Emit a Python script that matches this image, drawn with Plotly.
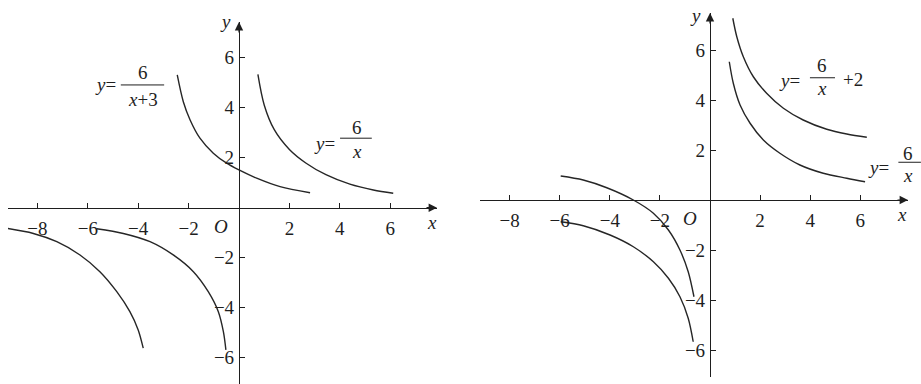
import plotly.graph_objects as go

# curve points (x, y in axis units)
# left graph: y = 6/x and y = 6/(x+3)
l_inv_pos_x = [0.75, 1.00, 1.40, 2.00, 2.65, 3.45, 4.40, 5.33, 6.12]
l_inv_pos_y = [5.33, 4.11, 3.12, 2.33, 1.79, 1.32, 0.94, 0.71, 0.58]
l_inv_neg_x = [-5.65, -4.59, -3.53, -2.61, -1.81, -1.22, -0.82, -0.62, -0.52]
l_inv_neg_y = [-0.84, -1.03, -1.36, -1.89, -2.56, -3.36, -4.16, -4.96, -5.69]
l_shift_pos_x = [-2.45, -2.21, -1.94, -1.55, -1.02, -0.49, 0.00, 0.70, 1.63, 2.82]
l_shift_pos_y = [5.31, 4.24, 3.51, 2.78, 2.18, 1.78, 1.51, 1.18, 0.84, 0.60]
l_shift_neg_x = [-9.19, -8.16, -7.23, -6.31, -5.52, -4.85, -4.33, -4.00, -3.80]
l_shift_neg_y = [-0.83, -1.03, -1.36, -1.89, -2.56, -3.36, -4.16, -4.89, -5.62]

# right graph: y = 6/x + 2 and y = 6/x
r_up_pos_x = [0.91, 1.07, 1.33, 1.73, 2.26, 2.93, 3.72, 4.66, 5.46, 6.26]
r_up_pos_y = [7.27, 6.53, 5.73, 4.93, 4.27, 3.67, 3.20, 2.83, 2.64, 2.51]
r_up_neg_x = [-5.96, -5.06, -4.12, -3.06, -2.26, -1.66, -1.20, -0.87, -0.64]
r_up_neg_y = [0.96, 0.80, 0.49, 0.00, -0.53, -1.20, -2.00, -2.87, -3.87]
r_inv_pos_x = [0.77, 0.93, 1.20, 1.60, 2.13, 2.79, 3.59, 4.52, 5.46, 6.19]
r_inv_pos_y = [5.53, 4.67, 3.80, 3.07, 2.40, 1.87, 1.40, 1.07, 0.87, 0.73]
r_inv_neg_x = [-5.96, -5.06, -3.99, -3.06, -2.26, -1.66, -1.20, -0.87, -0.67]
r_inv_neg_y = [-0.87, -1.03, -1.40, -1.87, -2.47, -3.13, -3.87, -4.73, -5.67]

tick_vals = [-8, -6, -4, -2, 2, 4, 6]
ytick_vals = [-6, -4, -2, 2, 4, 6]

W, H = 921, 384
FONT = "Liberation Serif, Times New Roman, serif"
INK = "#1e1e1e"
CURVE = "#262626"


def frame(px_left, px_right, px_top, px_bottom, ox, oy, ux, uy):
    # domain in paper units + matching data range, from pixel box and origin
    xdom = [px_left / W, px_right / W]
    ydom = [1 - px_bottom / H, 1 - px_top / H]
    xr = [(px_left - ox) / ux, (px_right - ox) / ux]
    yr = [(oy - px_bottom) / uy, (oy - px_top) / uy]
    return xdom, ydom, xr, yr


panels = [
    frame(8, 437, 22, 384, 239, 207.7, 25.2, 25.0),
    frame(480, 908, 13, 377, 710, 200.0, 25.05, 25.0),
]


def to_paper(panel, x, y):
    xdom, ydom, xr, yr = panels[panel]
    px = xdom[0] + (x - xr[0]) / (xr[1] - xr[0]) * (xdom[1] - xdom[0])
    py = ydom[0] + (y - yr[0]) / (yr[1] - yr[0]) * (ydom[1] - ydom[0])
    return px, py


fig = go.Figure()

curves = [
    (0, l_inv_pos_x, l_inv_pos_y), (0, l_inv_neg_x, l_inv_neg_y),
    (0, l_shift_pos_x, l_shift_pos_y), (0, l_shift_neg_x, l_shift_neg_y),
    (1, r_up_pos_x, r_up_pos_y), (1, r_up_neg_x, r_up_neg_y),
    (1, r_inv_pos_x, r_inv_pos_y), (1, r_inv_neg_x, r_inv_neg_y),
]
for k, xs, ys in curves:
    sfx = "" if k == 0 else "2"
    fig.add_trace(go.Scatter(
        x=xs, y=ys, mode="lines", xaxis="x" + sfx, yaxis="y" + sfx,
        line=dict(color=CURVE, width=1.4, shape="spline", smoothing=0.9),
        hoverinfo="skip", showlegend=False,
    ))

layout_axes = {}
annotations = []
shapes = []
for i, (xdom, ydom, xr, yr) in enumerate(panels):
    sfx = "" if i == 0 else str(i + 1)
    # where the zero lines sit on the paper
    ypos, xpos = to_paper(i, 0, 0)
    common = dict(showgrid=False, zeroline=False, showline=True,
                  linecolor=INK, linewidth=1.2, ticks="inside", ticklen=5,
                  tickwidth=1, tickcolor=INK, anchor="free", fixedrange=True,
                  tickfont=dict(family=FONT, size=19, color=INK))
    layout_axes["xaxis" + sfx] = dict(common, domain=xdom, range=xr,
                                      position=xpos, side="bottom",
                                      tickvals=tick_vals, ticklabelstandoff=3)
    layout_axes["yaxis" + sfx] = dict(common, domain=ydom, range=yr,
                                      position=ypos, side="left",
                                      tickvals=ytick_vals, ticklabelstandoff=1)
    # arrowheads at the ends of the axes (paper coordinates)
    tx, ty = to_paper(i, xr[1], 0)
    annotations.append(dict(x=tx, y=ty, ax=-12, ay=0, xref="paper",
                            yref="paper", text="", showarrow=True,
                            arrowhead=2, arrowsize=1.4, arrowwidth=1.2,
                            arrowcolor=INK))
    tx, ty = to_paper(i, 0, yr[1])
    annotations.append(dict(x=tx, y=ty, ax=0, ay=12, xref="paper",
                            yref="paper", text="", showarrow=True,
                            arrowhead=2, arrowsize=1.4, arrowwidth=1.2,
                            arrowcolor=INK))


def txt(s, x, y, panel, size=19):
    px, py = to_paper(panel, x, y)
    annotations.append(dict(text=s, x=px, y=py, xref="paper", yref="paper",
                            showarrow=False, xanchor="center", yanchor="middle",
                            font=dict(family=FONT, size=size, color=INK)))


def bar(x0, x1, y, panel):
    px0, py = to_paper(panel, x0, y)
    px1, _ = to_paper(panel, x1, y)
    shapes.append(dict(type="line", x0=px0, x1=px1, y0=py, y1=py,
                       xref="paper", yref="paper",
                       line=dict(color=INK, width=1)))


# left graph labels
txt("<i>y</i>", -0.52, 7.44, 0)
txt("<i>x</i>", 7.67, -0.60, 0)
txt("<i>O</i>", -0.73, -0.76, 0)
txt("<i>y</i>=", -5.28, 4.91, 0)
txt("6", -3.80, 5.40, 0)
bar(-4.69, -2.97, 4.91, 0)
txt("<i>x</i>+3", -3.80, 4.31, 0)
txt("<i>y</i>=", 3.41, 2.55, 0)
txt("6", 4.67, 3.20, 0)
bar(4.01, 5.27, 2.78, 0)
txt("<i>x</i>", 4.67, 2.24, 0)

# right graph labels
txt("<i>y</i>", -0.56, 7.40, 1)
txt("<i>x</i>", 7.65, -0.56, 1)
txt("<i>O</i>", -0.80, -0.73, 1)
txt("<i>y</i>=", 3.17, 4.80, 1)
txt("6", 4.46, 5.38, 1)
bar(3.99, 4.99, 4.89, 1)
txt("<i>x</i>", 4.46, 4.47, 1)
txt("+2", 5.72, 4.83, 1)
txt("<i>y</i>=", 6.72, 1.31, 1)
txt("6", 7.92, 1.86, 1)
bar(7.52, 8.42, 1.51, 1)
txt("<i>x</i>", 7.92, 1.00, 1)

fig.update_layout(
    width=W, height=H,
    margin=dict(l=0, r=0, t=0, b=0),
    paper_bgcolor="white", plot_bgcolor="white",
    annotations=annotations, shapes=shapes,
    showlegend=False,
    **layout_axes,
)

fig.write_html("out.html", config={"displayModeBar": False},
               post_script="document.body.style.margin='0';")
